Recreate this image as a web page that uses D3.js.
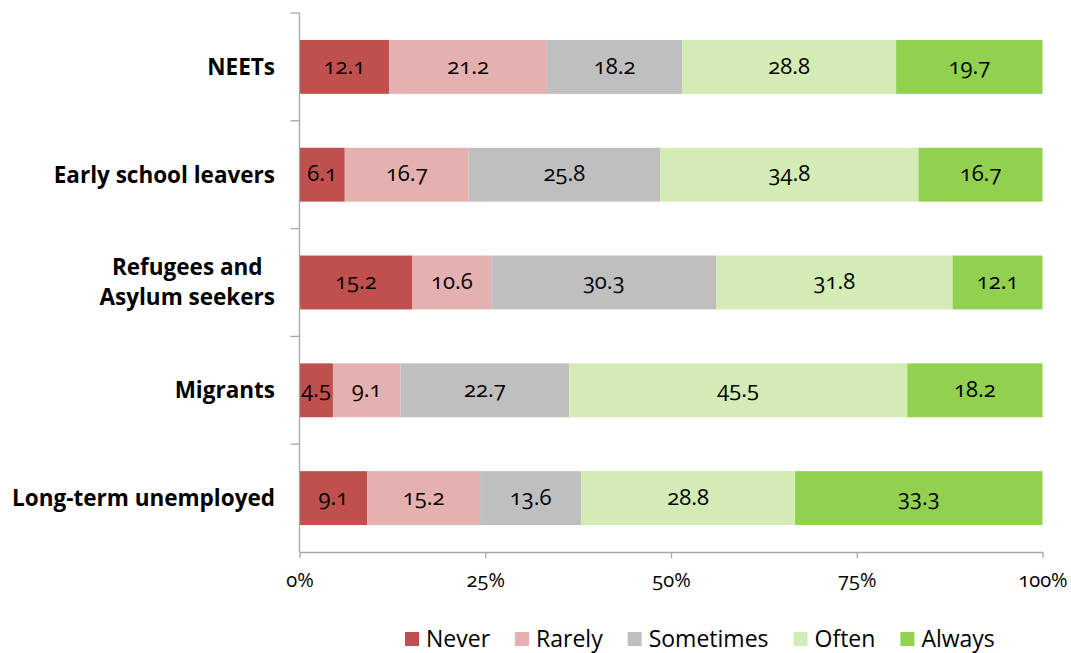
<!DOCTYPE html>
<html>
<head>
<meta charset="utf-8">
<script src="https://cdn.jsdelivr.net/npm/d3@7"></script>
<style>
  html, body { margin: 0; padding: 0; background: #fff; }
  svg text { font-family: "Open Sans", "Lato", sans-serif; font-variant-numeric: oldstyle-nums; fill: #000; }
</style>
</head>
<body>
<svg id="chart" width="1071" height="653"></svg>
<script>
// Target groups, top to bottom
const categories = ["NEETs", "Early school leavers", "Refugees and Asylum seekers", "Migrants", "Long-term unemployed"];
// Response frequency series (percent of respondents)
const seriesNames = ["Never", "Rarely", "Sometimes", "Often", "Always"];
const never     = [12.1, 6.1, 15.2, 4.5, 9.1];
const rarely    = [21.2, 16.7, 10.6, 9.1, 15.2];
const sometimes = [18.2, 25.8, 30.3, 22.7, 13.6];
const often     = [28.8, 34.8, 31.8, 45.5, 28.8];
const always    = [19.7, 16.7, 12.1, 18.2, 33.3];
const seriesColors = ["#C0504D", "#E5B1B0", "#BFBFBF", "#D3EBB4", "#92D050"];
const xTicks = [0, 25, 50, 75, 100];
const xTickLabels = ["0%", "25%", "50%", "75%", "100%"];

const seriesValues = [never, rarely, sometimes, often, always];
const rows = categories.map((c, i) => {
  const r = { category: c };
  seriesNames.forEach((s, j) => r[s] = seriesValues[j][i]);
  return r;
});
const stacked = d3.stack().keys(seriesNames).offset(d3.stackOffsetExpand)(rows);

const svg = d3.select("#chart");
const plotLeft = 299.5, plotRight = 1042.5, plotTop = 13, plotBottom = 552;

const x = d3.scaleLinear().domain([0, 1]).range([plotLeft, plotRight]);
const y = d3.scaleBand().domain(categories).range([plotTop, plotBottom]).paddingInner(0.5).paddingOuter(0.25);

// Bars
const layer = svg.append("g").selectAll("g").data(stacked).join("g")
  .attr("fill", (d, i) => seriesColors[i]);
layer.selectAll("rect").data(d => d).join("rect")
  .attr("x", d => x(d[0]))
  .attr("width", d => x(d[1]) - x(d[0]))
  .attr("y", d => y(d.data.category))
  .attr("height", y.bandwidth());

// Value labels
layer.each(function(s) {
  d3.select(this).selectAll("text").data(s).join("text")
    .attr("x", d => (x(d[0]) + x(d[1])) / 2)
    .attr("y", d => y(d.data.category) + y.bandwidth() / 2)
    .attr("dy", "0.3em")
    .attr("text-anchor", "middle")
    .attr("font-size", 22)
    .style("fill", "#000")
    .text(d => d.data[s.key].toFixed(1));
});

// X axis
const xAxis = svg.append("g").attr("transform", `translate(0,${plotBottom})`)
  .call(d3.axisBottom(x).tickValues(xTicks.map(v => v / 100)).tickSize(6).tickSizeOuter(0)
    .tickFormat((d, i) => xTickLabels[i]));
xAxis.select(".domain").attr("stroke", "#A6A6A6").attr("stroke-width", 1.3);
xAxis.selectAll(".tick line").attr("stroke", "#A6A6A6").attr("stroke-width", 1.3);
xAxis.selectAll(".tick text").attr("font-size", 20).attr("dy", 0).attr("y", 35)
  .style("font-family", "'Open Sans', sans-serif").style("fill", "#000");

// Y axis: line with ticks at band boundaries
const yg = svg.append("g");
yg.append("line").attr("x1", plotLeft).attr("x2", plotLeft).attr("y1", plotTop).attr("y2", plotBottom)
  .attr("stroke", "#A6A6A6").attr("stroke-width", 1.3);
d3.range(categories.length).forEach(i => {
  const yy = plotTop + i * y.step();
  yg.append("line").attr("x1", plotLeft - 9).attr("x2", plotLeft).attr("y1", yy).attr("y2", yy)
    .attr("stroke", "#A6A6A6").attr("stroke-width", 1.3);
});

// Category labels
const labelRight = 275;
const catLines = { "Refugees and Asylum seekers": ["Refugees and", "Asylum seekers"] };
categories.forEach(c => {
  const cy = y(c) + y.bandwidth() / 2;
  const lines = catLines[c] || [c];
  const t = svg.append("text").attr("font-size", 22.5).attr("font-weight", "bold");
  const spans = lines.map(l => t.append("tspan").text(l));
  const widths = spans.map(s => s.node().getComputedTextLength());
  const maxW = d3.max(widths);
  const cx = labelRight - maxW / 2;
  spans.forEach((s, i) => {
    s.attr("x", cx).attr("text-anchor", "middle")
      .attr("y", cy + (i - (lines.length - 1) / 2) * 30).attr("dy", "0.35em");
  });
});

// Legend
const legend = svg.append("g");
let lx = 0;
seriesNames.forEach((n, i) => {
  const g = legend.append("g").attr("transform", `translate(${lx},0)`);
  g.append("rect").attr("x", 0).attr("y", -7).attr("width", 14).attr("height", 14).attr("fill", seriesColors[i]);
  const t = g.append("text").attr("x", 21).attr("dy", "0.35em").attr("font-size", 23).text(n);
  lx += 21 + t.node().getComputedTextLength() + 25;
});
legend.attr("transform", "translate(405,639)");
</script>
</body>
</html>
